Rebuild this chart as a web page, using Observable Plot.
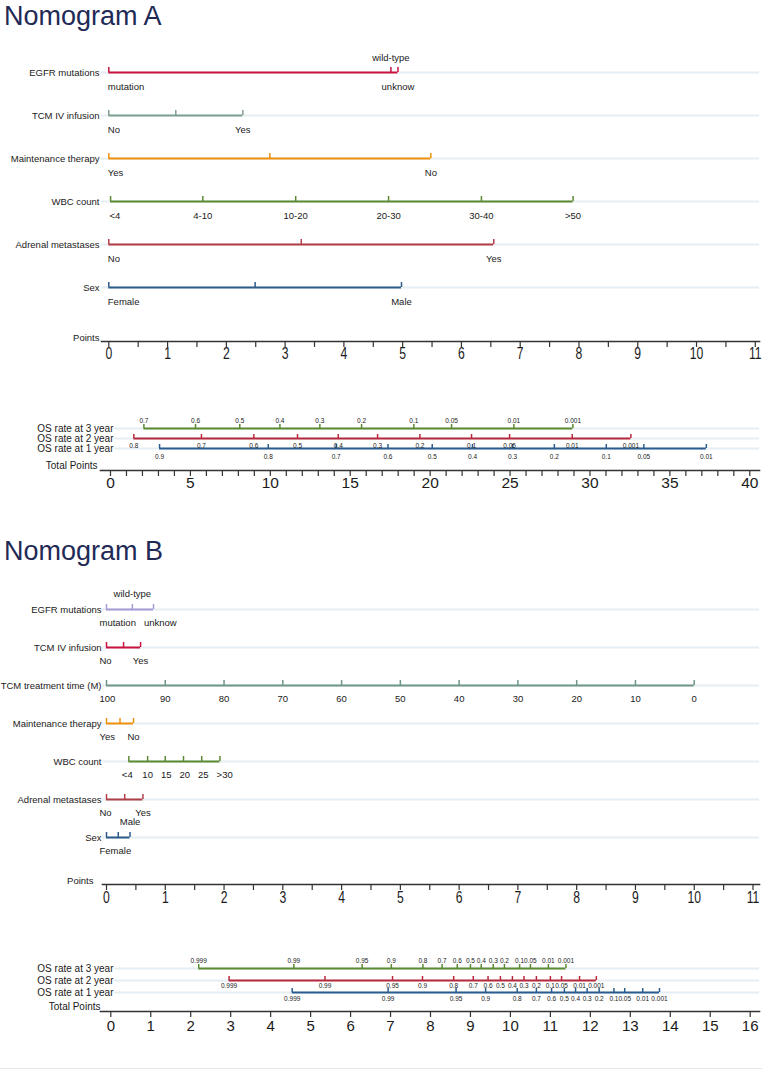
<!DOCTYPE html>
<html>
<head>
<meta charset="utf-8">
<script src="https://cdn.jsdelivr.net/npm/d3@7"></script>
<script src="https://cdn.jsdelivr.net/npm/@observablehq/plot@0.6"></script>
<style>
  body { margin: 0; background: #fff; }
  #page { position: relative; width: 762px; height: 1074px; overflow: hidden; font-family: "Liberation Sans", Arial, sans-serif; }
  .title { position: absolute; left: 4px; font-size: 27px; line-height: 1; color: #1f2a56; white-space: nowrap; }
  .part { position: absolute; left: 0; }
  .rule-bottom { position: absolute; left: 0; top: 1068px; width: 762px; height: 1px; background: #e4e8ec; }
</style>
</head>
<body>
<div id="page"></div>
<script>
// ---------- Nomogram A: predictors (points per level) ----------
const rowsA = ["EGFR mutations", "TCM IV infusion", "Maintenance therapy", "WBC count", "Adrenal metastases", "Sex"];
const egfrLevels = ["mutation", "wild-type", "unknow"];
const egfrPointsA = [0, 4.80, 4.92];
const tcmIvLevels = ["No", "Yes"];
const tcmIvPointsA = [0, 2.28];
const maintLevels = ["Yes", "No"];
const maintPointsA = [0, 5.48];
const wbcLevelsA = ["<4", "4-10", "10-20", "20-30", "30-40", ">50"];
const wbcPointsA = [0.03, 1.60, 3.18, 4.76, 6.34, 7.90];
const adrenalLevels = ["No", "Yes"];
const adrenalPointsA = [0, 6.55];
const sexLevels = ["Female", "Male"];
const sexPointsA = [0, 4.98];

// ---------- Nomogram A: survival scales (total points per probability) ----------
const osRows = ["OS rate at 3 year", "OS rate at 2 year", "OS rate at 1 year"];
const os3ProbA = [0.7, 0.6, 0.5, 0.4, 0.3, 0.2, 0.1, 0.05, 0.01, 0.001];
const os3TotalA = [2.09, 5.32, 8.09, 10.6, 13.1, 15.71, 18.98, 21.34, 25.24, 28.93];
const os2ProbA = [0.8, 0.7, 0.6, 0.5, 0.4, 0.3, 0.2, 0.1, 0.05, 0.01, 0.001];
const os2TotalA = [1.46, 5.69, 8.97, 11.7, 14.25, 16.71, 19.36, 22.59, 24.97, 28.89, 32.56];
const os1ProbA = [0.9, 0.8, 0.7, 0.6, 0.5, 0.4, 0.3, 0.2, 0.1, 0.05, 0.01];
const os1TotalA = [3.07, 9.87, 14.12, 17.36, 20.13, 22.65, 25.16, 27.77, 31.02, 33.37, 37.28];

// ---------- Nomogram B: predictors ----------
const rowsB = ["EGFR mutations", "TCM IV infusion", "TCM treatment time (M)", "Maintenance therapy", "WBC count", "Adrenal metastases", "Sex"];
const egfrPointsB = [0, 0.44, 0.80];
const tcmIvPointsB = [0, 0.58];
const tcmTimeLevels = [100, 90, 80, 70, 60, 50, 40, 30, 20, 10, 0];
const tcmTimePointsB = [0, 1, 2, 3, 4, 5, 6, 7, 8, 9, 10];
const maintPointsB = [0, 0.46];
const wbcLevelsB = ["<4", "10", "15", "20", "25", ">30"];
const wbcPointsB = [0.38, 0.70, 1.00, 1.31, 1.62, 1.93];
const adrenalPointsB = [0, 0.62];
const sexPointsB = [0, 0.40];

// ---------- Nomogram B: survival scales ----------
const osProbB = [0.999, 0.99, 0.95, 0.9, 0.8, 0.7, 0.6, 0.5, 0.4, 0.3, 0.2, 0.1, 0.05, 0.01, 0.001];
const os3TotalB = [2.20, 4.58, 6.29, 7.02, 7.81, 8.29, 8.67, 9.00, 9.27, 9.57, 9.85, 10.23, 10.50, 10.95, 11.39];
const os2TotalB = [2.96, 5.36, 7.05, 7.80, 8.58, 9.07, 9.44, 9.75, 10.05, 10.34, 10.65, 11.00, 11.28, 11.73, 12.15];
const os1TotalB = [4.54, 6.94, 8.64, 9.38, 10.17, 10.65, 11.03, 11.35, 11.63, 11.92, 12.22, 12.59, 12.86, 13.31, 13.73];

// ---------- axis ticks ----------
const pointsTicks = [0, 1, 2, 3, 4, 5, 6, 7, 8, 9, 10, 11];
const totalTicksA = [0, 5, 10, 15, 20, 25, 30, 35, 40];
const totalTicksB = [0, 1, 2, 3, 4, 5, 6, 7, 8, 9, 10, 11, 12, 13, 14, 15, 16];

// ---------- colours ----------
const colorsA = ["#c9123f", "#7f9f91", "#f0900c", "#5b8a32", "#b13d47", "#2c5b8a"];
const colorsB = ["#a99ad8", "#c9123f", "#6f9785", "#f0900c", "#5b8a32", "#b13d47", "#2c5b8a"];
const osColors = ["#5b8a32", "#b8293c", "#2b5c8f"];

const FONT = '"Liberation Sans", Arial, sans-serif';
const GRAY = "#e6eef3";
const INK = "#1a1a1a";
const AXIS = "#333333";
const LABEL_SIZE = 9.5;
const LABEL_GAP = 8;

const page = document.getElementById("page");
const measure = document.createElement("canvas").getContext("2d");
measure.font = `${LABEL_SIZE}px ${FONT}`;

function place(el, top) {
  el.classList.add("part");
  el.style.top = top + "px";
  page.appendChild(el);
}

function addTitle(text, top) {
  const t = document.createElement("div");
  t.className = "title";
  t.style.top = top + "px";
  t.textContent = text;
  page.appendChild(t);
}

// squeeze axis digits horizontally around their anchor
function squeezeDigits(svg, k) {
  svg.querySelectorAll('g[aria-label="x-axis tick label"] text').forEach((t) => {
    const tr = t.getAttribute("transform") || "";
    t.setAttribute("transform", `${tr} scale(${k},1)`);
  });
}

// whole and half ticks along an axis
function withHalves(major) {
  const out = [];
  major.forEach((v, i) => {
    out.push(v);
    if (i < major.length - 1) out.push((v + major[i + 1]) / 2);
  });
  return out;
}

function predictorPanel(cfg) {
  const xs = d3.scaleLinear([0, 11], cfg.xRange);
  const ticks = [], labels = [], segs = [];
  cfg.rows.forEach((row, k) => {
    const levels = cfg.levels[k], pts = cfg.points[k], color = cfg.colors[k];
    const widths = levels.map((t) => measure.measureText(String(t)).width);
    const ext = levels.map((t, i) => {
      const px = xs(pts[i]);
      return i === 0 ? [px + cfg.firstDx, px + cfg.firstDx + widths[i]] : [px - widths[i] / 2, px + widths[i] / 2];
    });
    const crowded = ext.some((e, i) => i > 0 && e[0] < ext[i - 1][1] + 2);
    // labels on the same side keep a small gap, pushing later ones to the right
    const lastEnd = {true: -Infinity, false: -Infinity};
    levels.forEach((t, i) => {
      const up = crowded && i % 2 === 1;
      let [s, e] = ext[i];
      if (i > 0 && s < lastEnd[up] + LABEL_GAP) {
        const shift = lastEnd[up] + LABEL_GAP - s;
        s += shift; e += shift;
      }
      lastEnd[up] = e;
      const lx = i === 0 ? pts[i] : xs.invert((s + e) / 2);
      ticks.push({row, p: pts[i], color});
      labels.push({row, p: lx, text: String(t), first: i === 0, up});
    });
    if (levels.length === 2) ticks.push({row, p: (pts[0] + pts[1]) / 2, color});
    segs.push({row, x1: d3.min(pts), x2: d3.max(pts), color});
  });

  const textOpts = {x: "p", y: "row", text: "text", fontSize: LABEL_SIZE, fill: INK};
  const svg = Plot.plot({
    width: 762,
    height: cfg.height,
    marginLeft: cfg.marginLeft,
    marginRight: 3,
    marginTop: 0,
    marginBottom: cfg.height - cfg.axisY,
    style: {fontFamily: FONT, background: "transparent", color: INK, overflow: "visible"},
    x: {domain: [0, 11], range: cfg.xRange},
    y: {type: "point", domain: cfg.rows, range: cfg.rowRange, padding: 0},
    color: {type: "identity"},
    marks: [
      Plot.ruleY(cfg.rows, {stroke: GRAY, strokeWidth: 2}),
      Plot.ruleY(segs, {y: "row", x1: "x1", x2: "x2", stroke: "color", strokeWidth: 2}),
      Plot.ruleX(ticks, {x: "p", y1: "row", y2: "row", insetTop: -5, stroke: "color", strokeWidth: 1.5}),
      Plot.text(labels.filter((d) => d.first && !d.up), {...textOpts, textAnchor: "start", dx: cfg.firstDx, dy: cfg.belowDy}),
      Plot.text(labels.filter((d) => !d.first && !d.up), {...textOpts, textAnchor: "middle", dy: cfg.belowDy}),
      Plot.text(labels.filter((d) => d.up), {...textOpts, textAnchor: "middle", dy: cfg.aboveDy}),
      Plot.axisY({tickSize: 0, tickPadding: cfg.labelPadding, fontSize: LABEL_SIZE, label: null}),
      Plot.frame({anchor: "bottom", stroke: AXIS, strokeWidth: 1.6}),
      Plot.axisX({ticks: withHalves(pointsTicks), tickFormat: (d) => (Number.isInteger(d) ? d : ""),
        tickSize: 6, tickPadding: cfg.tickPadding, fontSize: 16, stroke: AXIS, strokeWidth: 1.2, label: null}),
      Plot.text(["Points"], {frameAnchor: "bottom-left", textAnchor: "end", lineAnchor: "bottom",
        dx: cfg.pointsDx, dy: -1, fontSize: LABEL_SIZE, fill: INK})
    ]
  });
  squeezeDigits(svg, 0.76);
  place(svg, cfg.top);
}

function survivalPanel(cfg) {
  const ticks = [], segs = [];
  osRows.forEach((row, k) => {
    const probs = cfg.probs[k], totals = cfg.totals[k];
    probs.forEach((p, i) => ticks.push({row, k, t: totals[i], label: String(p), color: osColors[k]}));
    segs.push({row, x1: d3.min(totals), x2: d3.max(totals), color: osColors[k]});
  });
  const lab = {x: "t", y: "row", text: "label", fontSize: 6.5, fill: "#222"};
  const svg = Plot.plot({
    width: 762,
    height: cfg.height,
    marginLeft: 100,
    marginRight: 3,
    marginTop: 0,
    marginBottom: cfg.height - cfg.axisY,
    style: {fontFamily: FONT, background: "transparent", color: INK, overflow: "visible"},
    x: {domain: cfg.domain, range: cfg.xRange},
    y: {type: "point", domain: osRows, range: cfg.rowRange, padding: 0, axis: null},
    color: {type: "identity"},
    marks: [
      Plot.ruleY(osRows, {stroke: GRAY, strokeWidth: 2, insetLeft: 14}),
      Plot.ruleY(segs, {y: "row", x1: "x1", x2: "x2", stroke: "color", strokeWidth: 2}),
      Plot.ruleX(ticks, {x: "t", y1: "row", y2: "row", insetTop: -4, stroke: "color", strokeWidth: 1.5}),
      Plot.text(ticks.filter((d) => d.k === 0), {...lab, dy: cfg.labelDy[0]}),
      Plot.text(ticks.filter((d) => d.k === 1), {...lab, dy: cfg.labelDy[1]}),
      Plot.text(ticks.filter((d) => d.k === 2), {...lab, dy: cfg.labelDy[2]}),
      Plot.text(osRows, {y: (d) => d, text: (d) => d, frameAnchor: "left", textAnchor: "end", dx: 13, fontSize: 10, fill: INK}),
      Plot.frame({anchor: "bottom", stroke: AXIS, strokeWidth: 1.6}),
      Plot.axisX({ticks: cfg.allTicks, tickFormat: (d) => (cfg.labelTicks.includes(d) ? d : ""),
        tickSize: 6, tickPadding: cfg.tickPadding, fontSize: cfg.tickFont, stroke: AXIS, strokeWidth: 1.2, label: null}),
      Plot.text(["Total Points"], {frameAnchor: "bottom-left", textAnchor: "end", dx: cfg.totalDx, dy: -2, fontSize: 10, fill: INK})
    ]
  });
  if (cfg.squeeze !== 1) squeezeDigits(svg, cfg.squeeze);
  place(svg, cfg.top);
}

// ---------- Nomogram A ----------
addTitle("Nomogram A", 3);
predictorPanel({
  top: 40, height: 331, axisY: 301,
  rows: rowsA,
  levels: [egfrLevels, tcmIvLevels, maintLevels, wbcLevelsA, adrenalLevels, sexLevels],
  points: [egfrPointsA, tcmIvPointsA, maintPointsA, wbcPointsA, adrenalPointsA, sexPointsA],
  colors: colorsA,
  xRange: [108.3, 754.8], rowRange: [31, 248], marginLeft: 101, labelPadding: 2,
  firstDx: -1, belowDy: 14, aboveDy: -15, pointsDx: -2, tickPadding: 0
});
survivalPanel({
  top: 400, height: 100, axisY: 70,
  probs: [os3ProbA, os2ProbA, os1ProbA],
  totals: [os3TotalA, os2TotalA, os1TotalA],
  domain: [0, 40], xRange: [110, 749.3], rowRange: [26.7, 48.3],
  allTicks: d3.range(0, 41), labelTicks: totalTicksA,
  labelDy: [-7.5, 7, 8.5], tickPadding: 0, tickFont: 15.5, squeeze: 1, totalDx: -3
});

// ---------- Nomogram B ----------
addTitle("Nomogram B", 538);
predictorPanel({
  top: 575, height: 339, axisY: 309,
  rows: rowsB,
  levels: [egfrLevels, tcmIvLevels, tcmTimeLevels, maintLevels, wbcLevelsB, adrenalLevels, sexLevels],
  points: [egfrPointsB, tcmIvPointsB, tcmTimePointsB, maintPointsB, wbcPointsB, adrenalPointsB, sexPointsB],
  colors: colorsB,
  xRange: [106, 752.5], rowRange: [33, 262], marginLeft: 102, labelPadding: 1,
  firstDx: -7, belowDy: 13, aboveDy: -15.5, pointsDx: -9, tickPadding: 1
});
survivalPanel({
  top: 940, height: 101, axisY: 71,
  probs: [osProbB, osProbB, osProbB],
  totals: [os3TotalB, os2TotalB, os1TotalB],
  domain: [0, 16], xRange: [110.3, 749.7], rowRange: [27.3, 52.7],
  allTicks: totalTicksB, labelTicks: totalTicksB,
  labelDy: [-7.5, 5.5, 6.5], tickPadding: 3, tickFont: 15, squeeze: 1, totalDx: 0
});

const bottom = document.createElement("div");
bottom.className = "rule-bottom";
page.appendChild(bottom);
</script>
</body>
</html>
